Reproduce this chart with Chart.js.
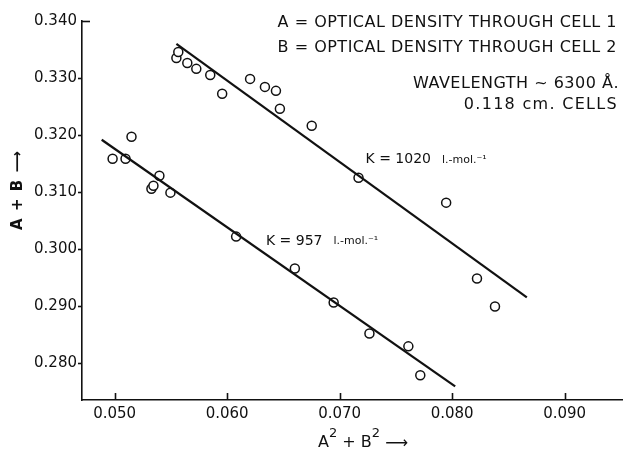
<!DOCTYPE html>
<html>
<head>
<meta charset="utf-8">
<script src="https://cdn.jsdelivr.net/npm/chart.js@4/dist/chart.umd.min.js"></script>
<style>
  html, body { margin: 0; padding: 0; background: #fff; }
</style>
</head>
<body>
<canvas id="chart" width="628" height="450"></canvas>
<script>
// upper points (K = 1020)
var x_upper = [0.05549, 0.05566, 0.05646, 0.05726, 0.0585, 0.05956, 0.06204, 0.06336, 0.06434, 0.06469, 0.06752, 0.07168, 0.07947, 0.08221, 0.08381];
var y_upper = [0.3335, 0.33457, 0.33264, 0.3316, 0.33054, 0.32722, 0.32984, 0.32844, 0.32774, 0.32459, 0.32161, 0.3125, 0.30813, 0.29482, 0.28991];

// lower points (K = 957)
var x_lower = [0.04982, 0.05097, 0.0515, 0.05327, 0.05345, 0.05398, 0.05496, 0.0608, 0.06602, 0.06947, 0.07265, 0.07611, 0.07717];
var y_lower = [0.31583, 0.31583, 0.31968, 0.31058, 0.3111, 0.31285, 0.30988, 0.30217, 0.29657, 0.29061, 0.28518, 0.28291, 0.27783];

// fitted lines, end points
var fit_upper_x = [0.05549, 0.08664];
var fit_upper_y = [0.33597, 0.29149];
var fit_lower_x = [0.04885, 0.08027];
var fit_lower_y = [0.31916, 0.2759];

var x_ticks = [0.050, 0.060, 0.070, 0.080, 0.090];
var y_ticks = [0.280, 0.290, 0.300, 0.310, 0.320, 0.330, 0.340];

var notes_top = [
    "A = OPTICAL DENSITY THROUGH CELL 1",
    "B = OPTICAL DENSITY THROUGH CELL 2",
    "WAVELENGTH ~ 6300 Å.",
    "0.118 cm. CELLS"
];
var k_labels = [
    { text: "K = 1020", unit: "l.-mol.⁻¹", x: 0.0723, y: 0.31566 },
    { text: "K = 957", unit: "l.-mol.⁻¹", x: 0.06345, y: 0.3013 }
];

var INK = "#111";
var FONT = "'DejaVu Sans', sans-serif";

function toPoints(xs, ys) {
    var pts = [];
    for (var i = 0; i < xs.length; i++) {
        pts.push({ x: xs[i], y: ys[i] });
    }
    return pts;
}

var pointStyle = {
    showLine: false,
    pointRadius: 4.5,
    pointBackgroundColor: "#fff",
    pointBorderColor: INK,
    pointBorderWidth: 1.5
};

var lineStyle = {
    showLine: true,
    borderColor: INK,
    borderWidth: 2.2,
    pointRadius: 0
};

// white background + ticks + texts
var paperPlugin = {
    id: "paper",
    beforeDraw: function (chart) {
        var ctx = chart.ctx;
        ctx.save();
        ctx.fillStyle = "#fff";
        ctx.fillRect(0, 0, chart.width, chart.height);
        ctx.restore();
    },
    afterDraw: function (chart) {
        var ctx = chart.ctx;
        var xs = chart.scales.x;
        var ys = chart.scales.y;
        var area = chart.chartArea;

        ctx.save();
        ctx.strokeStyle = INK;
        ctx.lineWidth = 1.6;

        // tick marks: x inward, y outward (top one inward)
        x_ticks.forEach(function (v) {
            var px = Math.round(xs.getPixelForValue(v)) + 0.5;
            ctx.beginPath();
            ctx.moveTo(px, area.bottom);
            ctx.lineTo(px, area.bottom - 7);
            ctx.stroke();
        });
        y_ticks.forEach(function (v, i) {
            var py = Math.round(ys.getPixelForValue(v)) + 0.5;
            ctx.beginPath();
            if (i == y_ticks.length - 1) {
                ctx.moveTo(area.left, py);
                ctx.lineTo(area.left + 8, py);
            } else {
                ctx.moveTo(area.left, py);
                ctx.lineTo(area.left - 4, py);
            }
            ctx.stroke();
        });

        ctx.fillStyle = INK;
        ctx.textBaseline = "middle";

        // notes in the top right corner
        ctx.font = "16px " + FONT;
        ctx.textAlign = "right";
        ctx.letterSpacing = "0.5px";
        ctx.fillText(notes_top[0], area.right - 5, 23);
        ctx.fillText(notes_top[1], area.right - 5, 48);
        ctx.fillText(notes_top[2], area.right - 3, 84);
        ctx.letterSpacing = "1.3px";
        ctx.fillText(notes_top[3], area.right - 4, 105);
        ctx.letterSpacing = "0px";

        // K labels next to the lines
        ctx.textAlign = "left";
        k_labels.forEach(function (k) {
            var px = xs.getPixelForValue(k.x);
            var py = ys.getPixelForValue(k.y);
            ctx.font = "14px " + FONT;
            ctx.fillText(k.text, px, py);
            var w = ctx.measureText(k.text).width + 11;
            ctx.font = "11px " + FONT;
            ctx.fillText(k.unit, px + w, py);
        });

        // x axis title with raised 2s
        var tx = 318, ty = 443;
        var parts = [["A", 0, 16], ["2", -9, 13], [" + B", 0, 16], ["2", -9, 13], [" ⟶", 1, 16]];
        parts.forEach(function (p) {
            ctx.font = p[2] + "px " + FONT;
            ctx.fillText(p[0], tx, ty + p[1]);
            tx += ctx.measureText(p[0]).width;
        });

        // y axis title, rotated
        ctx.translate(18, 190);
        ctx.rotate(-Math.PI / 2);
        ctx.textAlign = "center";
        ctx.font = "bold 15px " + FONT;
        ctx.letterSpacing = "1px";
        ctx.fillText("A + B ⟶", 0, 0);

        ctx.restore();
    }
};

new Chart(document.getElementById("chart"), {
    type: "scatter",
    data: {
        datasets: [
            Object.assign({ data: toPoints(fit_upper_x, fit_upper_y) }, lineStyle),
            Object.assign({ data: toPoints(fit_lower_x, fit_lower_y) }, lineStyle),
            Object.assign({ data: toPoints(x_upper, y_upper) }, pointStyle),
            Object.assign({ data: toPoints(x_lower, y_lower) }, pointStyle)
        ]
    },
    options: {
        responsive: false,
        animation: false,
        devicePixelRatio: 1,
        layout: { padding: { top: 21, right: 3, left: 0, bottom: 0 } },
        plugins: {
            legend: { display: false },
            tooltip: { enabled: false }
        },
        scales: {
            x: {
                type: "linear",
                min: 0.0471,
                max: 0.0951,
                grid: { display: false, drawTicks: false },
                border: { display: true, color: INK, width: 1.6 },
                afterBuildTicks: function (scale) {
                    scale.ticks = x_ticks.map(function (v) { return { value: v }; });
                },
                afterFit: function (scale) { scale.height = 50; },
                ticks: {
                    color: INK,
                    padding: 5,
                    maxRotation: 0,
                    font: { family: FONT, size: 15 },
                    callback: function (v) { return Number(v).toFixed(3); }
                }
            },
            y: {
                type: "linear",
                min: 0.2735,
                max: 0.340,
                grid: { display: false, drawTicks: false },
                border: { display: true, color: INK, width: 1.6 },
                afterBuildTicks: function (scale) {
                    scale.ticks = y_ticks.map(function (v) { return { value: v }; });
                },
                afterFit: function (scale) { scale.width = 82; },
                ticks: {
                    color: INK,
                    padding: 5,
                    font: { family: FONT, size: 15 },
                    callback: function (v) { return Number(v).toFixed(3); }
                }
            }
        }
    },
    plugins: [paperPlugin]
});
</script>
</body>
</html>
